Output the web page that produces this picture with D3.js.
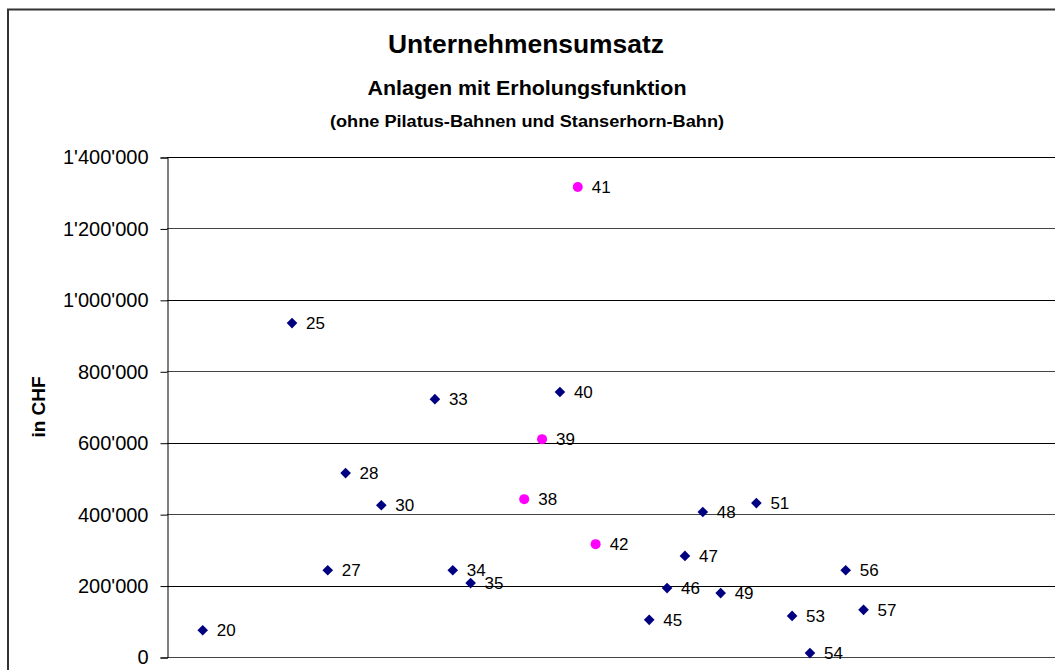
<!DOCTYPE html>
<html>
<head>
<meta charset="utf-8">
<script src="https://cdn.jsdelivr.net/npm/d3@7"></script>
<style>
  body { margin: 0; background: #fff; }
  text { font-family: Arial, "Liberation Sans", sans-serif; }
</style>
</head>
<body>
<div id="chart"></div>
<script>
// Anlagen (Nummer) und Umsatz in CHF
var ids    = [20, 25, 27, 28, 30, 33, 34, 35, 38, 39, 40, 41, 42, 45, 46, 47, 48, 49, 51, 53, 54, 56, 57];
var umsatz = [75000, 935000, 243000, 515000, 425000, 722000, 243000, 207000, 442000, 610000, 742000, 1316000, 316000,
              104000, 193000, 283000, 406000, 179000, 431000, 115000, 11000, 243000, 132000];
// hervorgehobene Anlagen (Kreis, magenta)
var marked = [38, 39, 41, 42];
var yTicks = [0, 200000, 400000, 600000, 800000, 1000000, 1200000, 1400000];

var W = 1055, H = 670;
var pad = { left: 167, top: 157, right: -5, bottom: 13 };

var svg = d3.select('#chart').append('svg').attr('width', W).attr('height', H);

// Rahmen des Diagramms
svg.append('rect').attr('x', 8).attr('y', 9.5).attr('width', W + 20).attr('height', H + 20)
  .attr('fill', '#fff').attr('stroke', '#333').attr('stroke-width', 2);

var x = d3.scaleLinear().domain([18, 68]).range([pad.left, W - pad.right]);
var y = d3.scaleLinear().domain([0, 1400000]).range([H - pad.bottom, pad.top]);

// Gitterlinien
svg.append('g').selectAll('line').data(yTicks).enter().append('line')
  .attr('x1', pad.left).attr('x2', W + 10)
  .attr('y1', d => Math.round(y(d)) + 0.5).attr('y2', d => Math.round(y(d)) + 0.5)
  .attr('stroke', (d, i) => i % 2 ? '#000' : '#444').attr('stroke-width', 1);

// y-Achse
var fmt = d => d3.format(',')(d).replace(/,/g, "'");
var yAxis = d3.axisLeft(y).tickValues(yTicks).tickFormat(fmt).tickSize(7).tickPadding(12);
var ga = svg.append('g').attr('transform', 'translate(' + (pad.left + 0.5) + ',0.5)').call(yAxis);
ga.select('.domain').attr('stroke', '#000');
ga.selectAll('line').attr('stroke', '#000');
ga.selectAll('text').attr('font-size', 20).attr('fill', '#000')
  .attr('font-family', 'Arial, "Liberation Sans", sans-serif');

svg.append('text').attr('transform', 'translate(45,' + ((pad.top + H - pad.bottom) / 2) + ') rotate(-90)')
  .attr('text-anchor', 'middle').attr('font-size', 19).attr('font-weight', 'bold').text('in CHF');

// Titel
svg.append('text').attr('x', 526).attr('y', 53).attr('text-anchor', 'middle')
  .attr('font-size', 25).attr('font-weight', 'bold')
  .attr('textLength', 276).attr('lengthAdjust', 'spacingAndGlyphs').text('Unternehmensumsatz');
svg.append('text').attr('x', 527).attr('y', 95).attr('text-anchor', 'middle')
  .attr('font-size', 20).attr('font-weight', 'bold')
  .attr('textLength', 319).attr('lengthAdjust', 'spacingAndGlyphs').text('Anlagen mit Erholungsfunktion');
svg.append('text').attr('x', 527).attr('y', 127).attr('text-anchor', 'middle')
  .attr('font-size', 16).attr('font-weight', 'bold')
  .attr('textLength', 394).attr('lengthAdjust', 'spacingAndGlyphs').text('(ohne Pilatus-Bahnen und Stanserhorn-Bahn)');

// Punkte
var data = ids.map((id, i) => ({ id: id, v: umsatz[i], m: marked.indexOf(id) >= 0 }));
var diamond = d3.symbol().type(d3.symbolDiamond2).size(72);
var pts = svg.append('g');
pts.selectAll('path').data(data.filter(d => !d.m)).enter().append('path')
  .attr('d', diamond)
  .attr('transform', d => 'translate(' + x(d.id) + ',' + y(d.v) + ')')
  .attr('fill', '#000080');
pts.selectAll('circle').data(data.filter(d => d.m)).enter().append('circle')
  .attr('cx', d => x(d.id)).attr('cy', d => y(d.v)).attr('r', 5)
  .attr('fill', '#ff00ff');

// Beschriftungen
svg.append('g').selectAll('text').data(data).enter().append('text')
  .attr('x', d => x(d.id) + 14).attr('y', d => y(d.v) + 6)
  .attr('font-size', 17).attr('fill', '#000').text(d => d.id);
</script>
</body>
</html>
